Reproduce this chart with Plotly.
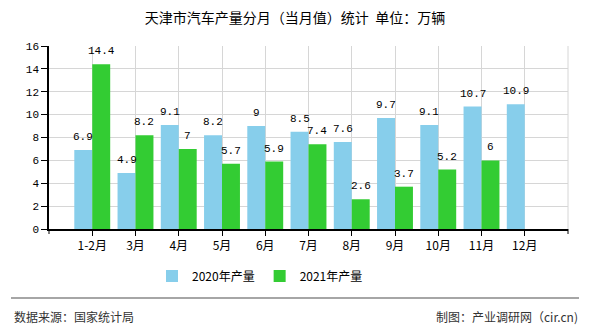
import plotly.graph_objects as go

categories = ["1-2月", "3月", "4月", "5月", "6月", "7月", "8月", "9月", "10月", "11月", "12月"]
values_2020 = [6.9, 4.9, 9.1, 8.2, 9, 8.5, 7.6, 9.7, 9.1, 10.7, 10.9]
values_2021 = [14.4, 8.2, 7, 5.7, 5.9, 7.4, 2.6, 3.7, 5.2, 6, None]
y_ticks = [0, 2, 4, 6, 8, 10, 12, 14, 16]

title_text = "天津市汽车产量分月（当月值）统计  单位：万辆"
source_text = "数据来源：国家统计局"
maker_text = "制图：产业调研网（cir.cn)"

CJK = "Noto Sans CJK SC, sans-serif"
MONO = "Liberation Mono, DejaVu Sans Mono, monospace"

L, R, T, B = 49, 22, 46, 101
W, H = 590, 330
pw, ph = W - L - R, H - T - B

def px_x(p):
    return (p - L) / pw

def px_y(p):
    return (H - B - p) / ph

fig = go.Figure()
fig.add_trace(go.Bar(
    x=categories, y=values_2020, name="2020年产量",
    marker=dict(color="#87CEEB", line=dict(width=0)),
))
fig.add_trace(go.Bar(
    x=categories, y=values_2021, name="2021年产量",
    marker=dict(color="#33CC33", line=dict(width=0)),
))

# value labels above bars
half_bar = pw / 12 * (1 - 0.17) / 4
for series, shift in ((values_2020, -half_bar), (values_2021, half_bar)):
    for cat, v in zip(categories, series):
        if v is None:
            continue
        fig.add_annotation(x=cat, y=v, text=f"{v:g}", showarrow=False,
                           xanchor="center", yanchor="bottom", xshift=shift, yshift=5,
                           font=dict(family=MONO, size=11, color="#000"))

fig.update_layout(
    width=W, height=H,
    margin=dict(l=L, r=R, t=T, b=B, pad=0),
    paper_bgcolor="white", plot_bgcolor="white",
    barmode="group", bargap=0.17, bargroupgap=0,
    title=dict(text=title_text, x=0.5, xanchor="center", y=1 - 18 / H, yanchor="middle",
               font=dict(family=CJK, size=14, color="#000")),
    legend=dict(orientation="h", x=px_x(152), xanchor="left", y=px_y(276), yanchor="middle",
                font=dict(family=CJK, size=12, color="#000"), itemwidth=30,
                tracegroupgap=0, bgcolor="rgba(0,0,0,0)"),
    showlegend=True,
)

fig.update_xaxes(
    type="category", range=[-1, 11],
    showgrid=True, gridcolor="#d6d6d6", gridwidth=1,
    showline=True, linecolor="#000", linewidth=1.5,
    ticks="outside", ticklen=5, tickcolor="#000",
    tickfont=dict(family=CJK, size=12, color="#000"),
    mirror=False,
)
fig.update_yaxes(
    range=[0, 16], tickvals=y_ticks,
    showgrid=True, gridcolor="#d6d6d6", gridwidth=1,
    showline=True, linecolor="#000", linewidth=1.5,
    ticks="outside", ticklen=6, tickcolor="#000",
    tickfont=dict(family=MONO, size=11, color="#000"),
    zeroline=False,
)

shapes = [
    dict(type="line", xref="paper", yref="paper", x0=1, x1=1, y0=0, y1=1,
         line=dict(color="#d6d6d6", width=1)),
    dict(type="line", xref="paper", yref="paper", x0=0, x1=0, y0=0, y1=px_y(234),
         line=dict(color="#000", width=1)),
    dict(type="line", xref="paper", yref="paper", x0=1, x1=1, y0=0, y1=px_y(234),
         line=dict(color="#000", width=1)),
    dict(type="line", xref="paper", yref="paper", x0=px_x(11), x1=px_x(579),
         y0=px_y(298), y1=px_y(298), line=dict(color="#888", width=1.5)),
]
fig.update_layout(shapes=shapes)

fig.add_annotation(text=source_text, xref="paper", yref="paper", x=px_x(12), y=px_y(316),
                   xanchor="left", yanchor="middle", showarrow=False,
                   font=dict(family=CJK, size=12, color="#333"))
fig.add_annotation(text=maker_text, xref="paper", yref="paper", x=px_x(580), y=px_y(316),
                   xanchor="right", yanchor="middle", showarrow=False,
                   font=dict(family=CJK, size=12, color="#333"))

fig.write_html("out.html")
